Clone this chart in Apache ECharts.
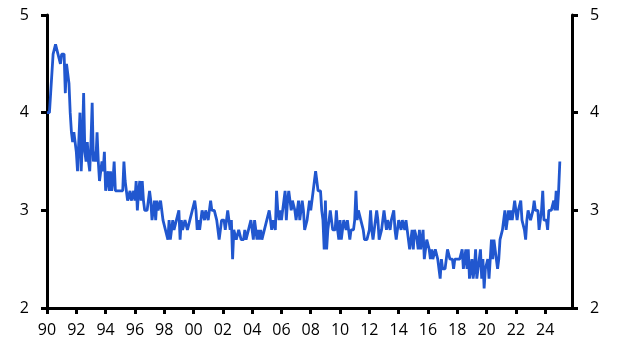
<!DOCTYPE html>
<html>
<head>
<meta charset="utf-8">
<script src="https://cdn.jsdelivr.net/npm/echarts@6/dist/echarts.min.js"></script>
<style>
html,body{margin:0;padding:0;background:#fff;}
#chart{width:627px;height:352px;}
</style>
</head>
<body>
<div id="chart"></div>
<script>
// Monthly series, starting January 1990
const startYear = 1990;
const values = [
  // 1990
  4.0, 4.0, 4.0, 4.2, 4.2, 4.6, 4.6, 4.7, 4.7, 4.6, 4.6, 4.5,
  // 1991
  4.6, 4.6, 4.6, 4.2, 4.5, 4.5, 4.3, 4.0, 3.8, 3.7, 3.8, 3.8,
  // 1992
  3.6, 3.4, 3.7, 4.0, 3.4, 3.7, 4.2, 3.6, 3.5, 3.7, 3.5, 3.4,
  // 1993
  3.7, 4.1, 3.5, 3.6, 3.5, 3.8, 3.5, 3.3, 3.4, 3.5, 3.4, 3.6,
  // 1994
  3.2, 3.3, 3.4, 3.2, 3.4, 3.2, 3.3, 3.5, 3.2, 3.2, 3.2, 3.2,
  // 1995
  3.2, 3.2, 3.2, 3.5, 3.3, 3.2, 3.1, 3.1, 3.2, 3.1, 3.1, 3.2,
  // 1996
  3.1, 3.3, 3.0, 3.2, 3.3, 3.1, 3.3, 3.1, 3.0, 3.0, 3.0, 3.0,
  // 1997
  3.2, 3.1, 2.9, 3.0, 3.1, 2.9, 3.1, 3.0, 3.0, 3.1, 3.1, 2.9,
  // 1998
  2.9, 2.8, 2.8, 2.7, 2.9, 2.7, 2.8, 2.9, 2.8, 2.8, 2.9, 2.9,
  // 1999
  3.0, 2.7, 2.9, 2.8, 2.8, 2.9, 2.9, 2.8, 2.8, 2.9, 2.9, 3.0,
  // 2000
  3.0, 3.1, 3.0, 2.8, 2.9, 2.8, 2.9, 3.0, 3.0, 2.9, 3.0, 3.0,
  // 2001
  2.9, 3.0, 3.1, 3.0, 3.0, 3.0, 3.0, 2.9, 2.9, 2.7, 2.8, 2.9,
  // 2002
  2.9, 2.9, 2.8, 2.8, 3.0, 2.9, 2.8, 2.9, 2.5, 2.8, 2.8, 2.7,
  // 2003
  2.7, 2.8, 2.8, 2.7, 2.7, 2.7, 2.8, 2.7, 2.7, 2.8, 2.8, 2.9,
  // 2004
  2.8, 2.7, 2.9, 2.8, 2.7, 2.8, 2.7, 2.8, 2.7, 2.7, 2.8, 2.8,
  // 2005
  2.9, 2.9, 3.0, 3.0, 2.8, 2.9, 2.9, 2.8, 3.2, 3.0, 2.9, 3.0,
  // 2006
  2.9, 3.0, 3.1, 3.2, 2.9, 3.1, 3.2, 3.1, 3.0, 3.1, 3.1, 3.0,
  // 2007
  2.9, 3.0, 3.1, 2.9, 3.0, 3.1, 3.0, 2.8, 2.8, 2.9, 3.0, 3.1,
  // 2008
  3.0, 3.1, 3.2, 3.3, 3.4, 3.4, 3.2, 3.2, 3.2, 3.0, 2.9, 2.6,
  // 2009
  3.1, 2.6, 2.8, 2.9, 3.0, 2.9, 2.8, 2.8, 2.8, 3.0, 2.8, 2.7,
  // 2010
  2.9, 2.7, 2.8, 2.9, 2.9, 2.8, 2.9, 2.8, 2.7, 2.8, 2.8, 2.8,
  // 2011
  2.9, 3.2, 2.9, 3.0, 3.0, 2.9, 2.9, 2.8, 2.7, 2.7, 2.7, 2.7,
  // 2012
  2.8, 3.0, 2.8, 2.7, 2.8, 2.8, 3.0, 2.9, 2.7, 2.7, 2.8, 2.9,
  // 2013
  3.0, 2.9, 2.8, 2.9, 2.9, 2.8, 2.9, 2.9, 3.0, 2.8, 2.7, 2.8,
  // 2014
  2.9, 2.9, 2.8, 2.9, 2.9, 2.8, 2.9, 2.8, 2.8, 2.6, 2.7, 2.8,
  // 2015
  2.6, 2.8, 2.8, 2.7, 2.6, 2.8, 2.6, 2.7, 2.8, 2.5, 2.6, 2.7,
  // 2016
  2.7, 2.6, 2.5, 2.6, 2.5, 2.5, 2.6, 2.6, 2.5, 2.4, 2.3, 2.5,
  // 2017
  2.4, 2.4, 2.4, 2.5, 2.6, 2.6, 2.5, 2.5, 2.5, 2.4, 2.5, 2.5,
  // 2018
  2.5, 2.5, 2.5, 2.5, 2.6, 2.4, 2.5, 2.6, 2.4, 2.6, 2.3, 2.4,
  // 2019
  2.5, 2.3, 2.4, 2.6, 2.3, 2.4, 2.5, 2.6, 2.3, 2.5, 2.2, 2.4,
  // 2020
  2.4, 2.5, 2.3, 2.5, 2.7, 2.5, 2.7, 2.7, 2.5, 2.4, 2.5, 2.7,
  // 2021
  2.7, 2.8, 2.8, 3.0, 2.8, 2.9, 3.0, 2.9, 3.0, 2.9, 3.0, 3.1,
  // 2022
  3.1, 2.9, 3.0, 3.0, 3.1, 2.9, 2.9, 2.8, 2.7, 2.9, 3.0, 3.0,
  // 2023
  2.9, 2.9, 3.0, 3.1, 3.0, 3.0, 3.0, 2.8, 2.9, 3.0, 3.2, 2.9,
  // 2024
  2.9, 2.9, 2.8, 3.0, 3.0, 3.0, 3.0, 3.1, 3.0, 3.2, 3.0, 3.2,
  // 2025
  3.5
];
const tickYears = [1990,1992,1994,1996,1998,2000,2002,2004,2006,2008,2010,2012,2014,2016,2018,2020,2022,2024];
const tickLabels = ['90','92','94','96','98','00','02','04','06','08','10','12','14','16','18','20','22','24'];

const xMin = 1990, xMax = 2025.83;
const seriesData = values.map((v, i) => [startYear + i / 12, v]);
const labelMap = {};
tickYears.forEach((y, i) => { labelMap[y] = tickLabels[i]; });

const font = '"Open Sans", "Noto Sans", sans-serif';
const axisCol = '#000';

const chart = echarts.init(document.getElementById('chart'), null, {renderer: 'canvas'});
const yAxisBase = {
  type: 'value', min: 2, max: 5, interval: 1,
  splitLine: {show: false},
  axisLine: {show: true, lineStyle: {color: axisCol, width: 3}},
  axisTick: {show: true, length: 6, lineStyle: {color: axisCol, width: 3}},
  axisLabel: {color: '#000', fontSize: 16, fontFamily: font, margin: 18}
};
chart.setOption({
  animation: false,
  backgroundColor: '#fff',
  grid: {left: 47, right: 55, top: 15, bottom: 44, containLabel: false},
  xAxis: {
    type: 'value', min: xMin, max: xMax,
    splitLine: {show: false},
    axisLine: {show: true, onZero: false, lineStyle: {color: axisCol, width: 3}},
    axisTick: {show: true, length: 6, customValues: tickYears, lineStyle: {color: axisCol, width: 3}},
    axisLabel: {
      customValues: tickYears, color: '#000', fontSize: 16, fontFamily: font, margin: 14,
      formatter: v => labelMap[Math.round(v)] || ''
    }
  },
  yAxis: [
    Object.assign({}, yAxisBase, {position: 'left'}),
    Object.assign({}, yAxisBase, {position: 'right'})
  ],
  series: [{
    type: 'line',
    data: seriesData,
    showSymbol: false,
    symbol: 'none',
    lineStyle: {color: '#2157cf', width: 2.8},
    z: 1
  }]
});
</script>
</body>
</html>
